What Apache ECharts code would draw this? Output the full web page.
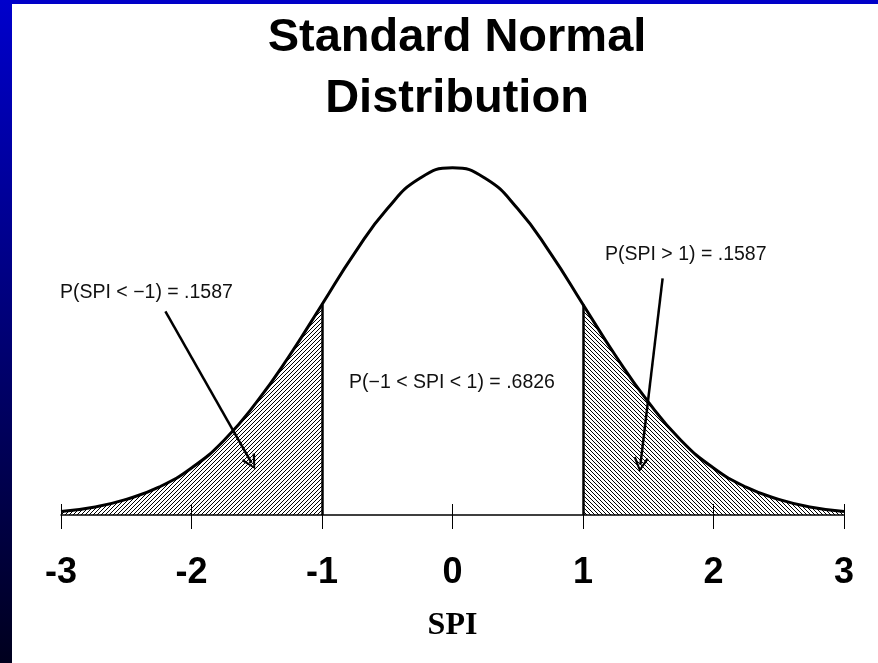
<!DOCTYPE html>
<html lang="en">

<head>
  <meta charset="UTF-8">
  <title>Standard Normal Distribution</title>
  <style>
    * {
      margin: 0;
      padding: 0;
      box-sizing: border-box;
    }

    body {
      background-color: #fff;
    }

    .chart {
      width: 878px;
      height: 663px;
    }
  </style>
</head>

<body>
  <div id="chart" class="chart"></div>
  <script src="https://cdn.jsdelivr.net/npm/echarts@6/dist/echarts.min.js"></script>
  <script>
    // SPI values (x) and curve height
    const spi = [-3, -2.75, -2.5, -2.25, -2, -1.75, -1.5, -1.25, -1, -0.75, -0.5, -0.25, 0,
      0.25, 0.5, 0.75, 1, 1.25, 1.5, 1.75, 2, 2.25, 2.5, 2.75, 3]
    const density = [0.004, 0.009, 0.018, 0.032, 0.054, 0.086, 0.130, 0.183, 0.242, 0.301, 0.352, 0.387, 0.399,
      0.387, 0.352, 0.301, 0.242, 0.183, 0.130, 0.086, 0.054, 0.032, 0.018, 0.009, 0.004]
    const tickLabels = ['-3', '-2', '-1', '0', '1', '2', '3']
    const cutoffs = [-1, 1]
    // arrow start / end in data units
    const arrows = [
      [[-2.20, 0.234], [-1.54, 0.060]],
      [[1.61, 0.272], [1.44, 0.058]]
    ]
    const notes = ['P(SPI < \u22121) = .1587', 'P(SPI > 1) = .1587', 'P(\u22121 < SPI < 1) = .6826']

    const curve = spi.map((x, i) => [x, density[i]])
    const leftTail = curve.filter(p => p[0] <= cutoffs[0])
    const rightTail = curve.filter(p => p[0] >= cutoffs[1])

    function hatch(dir) {
      const c = document.createElement('canvas')
      c.width = 4
      c.height = 4
      const g = c.getContext('2d')
      g.fillStyle = '#000'
      for (let i = 0; i < 4; i++) {
        g.fillRect(i, dir === '/' ? 3 - i : i, 1, 1)
      }
      return { image: c, repeat: 'repeat' }
    }

    const grid = { left: 61, right: 34, top: 167, bottom: 148 }
    const font = 'Liberation Sans, Arial, sans-serif'

    const chart = echarts.init(document.querySelector('#chart'))
    const options = {
      backgroundColor: '#fff',
      animation: false,
      title: {
        text: 'Standard Normal\nDistribution',
        left: 452,
        top: 3,
        textAlign: 'center',
        textStyle: {
          fontFamily: font,
          fontWeight: 'bold',
          fontSize: 47,
          lineHeight: 61,
          color: '#000'
        }
      },
      grid: [Object.assign({}, grid), Object.assign({}, grid)],
      xAxis: [
        {
          type: 'value',
          min: -3,
          max: 3,
          interval: 1,
          gridIndex: 0,
          splitLine: { show: false },
          axisLine: { lineStyle: { color: '#000', width: 1.5 } },
          axisTick: { length: 14, lineStyle: { color: '#000', width: 1 } },
          axisLabel: {
            margin: 40,
            color: '#000',
            fontFamily: font,
            fontWeight: 'bold',
            fontSize: 36,
            formatter: v => tickLabels[Math.round(v) + 3]
          },
          name: 'SPI',
          nameLocation: 'middle',
          nameGap: 95,
          nameTextStyle: {
            fontFamily: 'Liberation Serif, Times New Roman, serif',
            fontWeight: 'bold',
            fontSize: 32,
            color: '#000'
          }
        },
        {
          type: 'value',
          min: -3,
          max: 3,
          interval: 1,
          gridIndex: 1,
          splitLine: { show: false },
          axisLine: { show: false },
          axisTick: { inside: true, length: 11, lineStyle: { color: '#000', width: 1 } },
          axisLabel: { show: false }
        }
      ],
      yAxis: [
        { type: 'value', min: 0, max: 0.4, show: false, gridIndex: 0 },
        { type: 'value', min: 0, max: 0.4, show: false, gridIndex: 1 }
      ],
      graphic: [
        {
          type: 'rect',
          left: 0,
          top: 0,
          shape: { width: 878, height: 4 },
          style: { fill: '#0000c8' },
          z: 100
        },
        {
          type: 'rect',
          left: 0,
          top: 0,
          shape: { width: 12, height: 663 },
          style: {
            fill: new echarts.graphic.LinearGradient(0, 0, 0, 1, [
              { offset: 0, color: '#0000cc' },
              { offset: 1, color: '#00001e' }
            ])
          },
          z: 100
        },
        {
          type: 'text',
          left: 60,
          top: 283,
          style: { text: notes[0], font: '19.5px ' + font, fill: '#111' }
        },
        {
          type: 'text',
          left: 605,
          top: 245,
          style: { text: notes[1], font: '19.5px ' + font, fill: '#111' }
        },
        {
          type: 'text',
          left: 349,
          top: 373,
          style: { text: notes[2], font: '19.5px ' + font, fill: '#111' }
        }
      ],
      series: [
        {
          type: 'line',
          data: leftTail,
          smooth: true,
          showSymbol: false,
          lineStyle: { width: 0 },
          areaStyle: { color: hatch('/'), opacity: 1 },
          z: 1
        },
        {
          type: 'line',
          data: rightTail,
          smooth: true,
          showSymbol: false,
          lineStyle: { width: 0 },
          areaStyle: { color: hatch('\\'), opacity: 1 },
          z: 1
        },
        {
          type: 'line',
          data: curve,
          smooth: true,
          showSymbol: false,
          lineStyle: { color: '#000', width: 3 },
          z: 3,
          markLine: {
            silent: true,
            symbol: ['none', 'none'],
            label: { show: false },
            lineStyle: { color: '#000', width: 2.5, type: 'solid' },
            data: cutoffs.map(c => [
              { coord: [c, 0] },
              { coord: [c, density[spi.indexOf(c)]] }
            ]).concat(arrows.map(a => [
              { coord: a[0], symbol: 'none' },
              {
                coord: a[1],
                symbol: 'path://M6,0 L12,11 L10.4,12.2 L6,3.2 L1.6,12.2 L0,11 Z',
                symbolSize: [15, 15]
              }
            ]))
          }
        }
      ]
    }

    chart.setOption(options)
  </script>
</body>

</html>
